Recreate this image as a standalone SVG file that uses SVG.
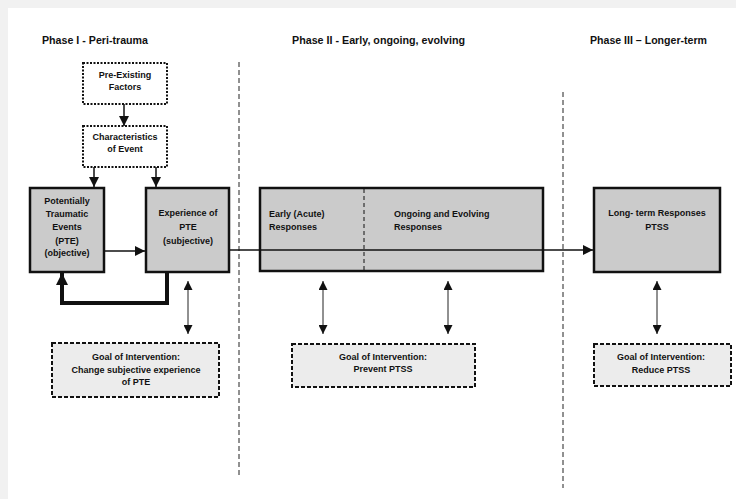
<svg xmlns="http://www.w3.org/2000/svg" width="736" height="499" viewBox="0 0 736 499">
<style>
.t{font-family:"Liberation Sans",Arial,sans-serif;font-weight:bold;font-size:9px;fill:#111}
.title{font-family:"Liberation Sans",Arial,sans-serif;font-weight:bold;font-size:10.5px;fill:#111}
.box{fill:#cbcbcb;stroke:#111;stroke-width:2.5}
.dot{fill:#fff;stroke:#111;stroke-width:2;stroke-dasharray:2 1.5}
.goal{fill:#ececec;stroke:#111;stroke-width:2;stroke-dasharray:4 2}
.phase{stroke:#222;stroke-width:1;stroke-dasharray:5 3;fill:none}
.ln{stroke:#111;stroke-width:1.5;fill:none}
.thin{stroke:#222;stroke-width:1;fill:none}
.thick{stroke:#111;stroke-width:4;fill:none}
</style>
<defs>
<marker id="arr" viewBox="0 0 10 10" refX="10" refY="5" markerWidth="10" markerHeight="10" markerUnits="userSpaceOnUse" orient="auto"><path d="M0,0 L10,5 L0,10 z" fill="#111"/></marker>
<marker id="arrS" viewBox="0 0 10 10" refX="10" refY="5" markerWidth="10" markerHeight="9" markerUnits="userSpaceOnUse" orient="auto-start-reverse"><path d="M0,0 L10,5 L0,10 z" fill="#111"/></marker>
<marker id="arrL" viewBox="0 0 10 10" refX="10" refY="5" markerWidth="12" markerHeight="12" markerUnits="userSpaceOnUse" orient="auto"><path d="M0,0 L10,5 L0,10 z" fill="#111"/></marker>
</defs>
<rect x="0" y="0" width="736" height="499" fill="#f1f1f1"/>
<rect x="8" y="8" width="728" height="491" fill="#fff"/>

<g id="titles">
<text class="title" x="42" y="44" textLength="106" lengthAdjust="spacingAndGlyphs">Phase I  - Peri-trauma</text>
<text class="title" x="292" y="44" textLength="173" lengthAdjust="spacingAndGlyphs">Phase II  - Early, ongoing, evolving</text>
<text class="title" x="590" y="44" textLength="117" lengthAdjust="spacingAndGlyphs">Phase III – Longer-term</text>
</g>

<g id="dividers">
<line class="phase" x1="239" y1="62" x2="239" y2="475"/>
<line class="phase" x1="563" y1="92" x2="563" y2="488"/>
</g>

<g id="pre-existing">
<rect class="dot" x="83" y="63" width="84" height="41"/>
<text class="t" text-anchor="middle" x="125" y="78">Pre-Existing</text>
<text class="t" text-anchor="middle" x="125" y="90">Factors</text>
</g>

<g id="characteristics">
<rect class="dot" x="83" y="126" width="84" height="41"/>
<text class="t" text-anchor="middle" x="125" y="140">Characteristics</text>
<text class="t" text-anchor="middle" x="125" y="152">of Event</text>
</g>

<g id="pte">
<rect class="box" x="30" y="188" width="74" height="84"/>
<text class="t" text-anchor="middle" x="67" y="204">Potentially</text>
<text class="t" text-anchor="middle" x="67" y="217">Traumatic</text>
<text class="t" text-anchor="middle" x="67" y="230">Events</text>
<text class="t" text-anchor="middle" x="67" y="244">(PTE)</text>
<text class="t" text-anchor="middle" x="67" y="256">(objective)</text>
</g>

<g id="experience">
<rect class="box" x="146" y="188" width="83" height="84"/>
<text class="t" text-anchor="middle" x="188" y="216">Experience of</text>
<text class="t" text-anchor="middle" x="188" y="230">PTE</text>
<text class="t" text-anchor="middle" x="188" y="244">(subjective)</text>
</g>

<g id="responses">
<rect class="box" x="260" y="188" width="283" height="83"/>
<line x1="364" y1="189" x2="364" y2="270" stroke="#111" stroke-width="1" stroke-dasharray="4 3"/>
<text class="t" x="269" y="217">Early (Acute)</text>
<text class="t" x="269" y="230">Responses</text>
<text class="t" x="394" y="217">Ongoing and Evolving</text>
<text class="t" x="394" y="230">Responses</text>
</g>

<g id="longterm">
<rect class="box" x="594" y="188" width="126" height="84"/>
<text class="t" text-anchor="middle" x="657" y="216">Long- term Responses</text>
<text class="t" text-anchor="middle" x="657" y="230">PTSS</text>
</g>

<g id="goal1">
<rect class="goal" x="52" y="343" width="167" height="54"/>
<text class="t" text-anchor="middle" x="136" y="360">Goal of Intervention:</text>
<text class="t" text-anchor="middle" x="136" y="373">Change subjective experience</text>
<text class="t" text-anchor="middle" x="136" y="385">of PTE</text>
</g>

<g id="goal2">
<rect class="goal" x="292" y="344" width="183" height="43"/>
<text class="t" text-anchor="middle" x="383" y="360">Goal of Intervention:</text>
<text class="t" text-anchor="middle" x="383" y="372">Prevent PTSS</text>
</g>

<g id="goal3">
<rect class="goal" x="594" y="344" width="137" height="42"/>
<text class="t" text-anchor="middle" x="661" y="360">Goal of Intervention:</text>
<text class="t" text-anchor="middle" x="661" y="373">Reduce PTSS</text>
</g>

<g id="connectors">
<line class="ln" x1="124" y1="104" x2="124" y2="126" marker-end="url(#arr)"/>
<line class="ln" x1="94" y1="167" x2="94" y2="187" marker-end="url(#arr)"/>
<line class="ln" x1="156" y1="167" x2="156" y2="187" marker-end="url(#arr)"/>
<line class="ln" x1="104" y1="251" x2="145" y2="251" marker-end="url(#arr)"/>
<path class="thick" d="M167,273 V303 H62 V273" marker-end="url(#arrL)"/>
<line class="ln" x1="229" y1="250" x2="593" y2="250" marker-end="url(#arr)"/>
<line class="thin" x1="188" y1="281" x2="188" y2="334" marker-start="url(#arrS)" marker-end="url(#arrS)"/>
<line class="thin" x1="323" y1="281" x2="323" y2="334" marker-start="url(#arrS)" marker-end="url(#arrS)"/>
<line class="thin" x1="448" y1="281" x2="448" y2="334" marker-start="url(#arrS)" marker-end="url(#arrS)"/>
<line class="thin" x1="657" y1="281" x2="657" y2="334" marker-start="url(#arrS)" marker-end="url(#arrS)"/>
</g>
</svg>
